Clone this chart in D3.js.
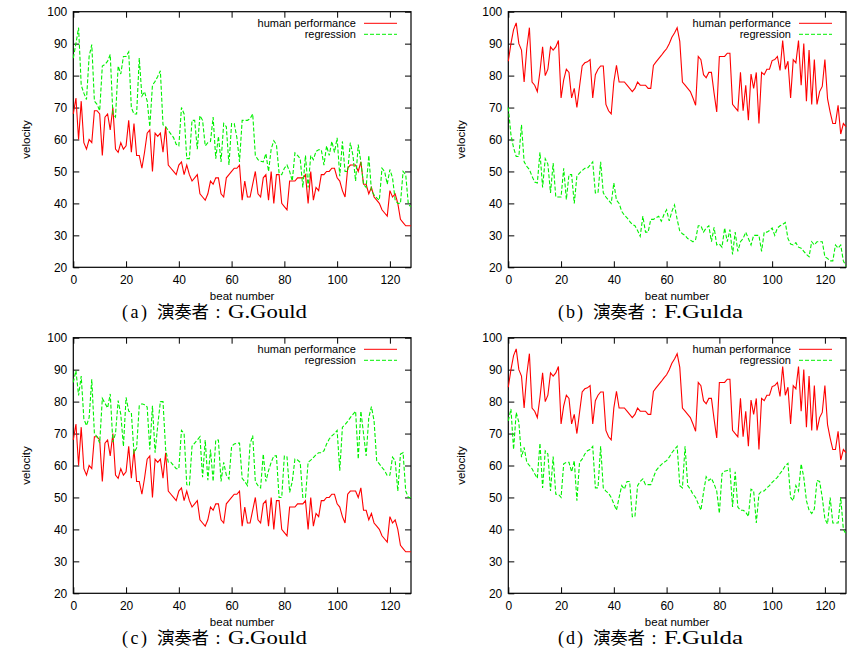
<!DOCTYPE html>
<html>
<head>
<meta charset="utf-8">
<script src="https://cdnjs.cloudflare.com/ajax/libs/d3/7.8.5/d3.min.js"></script>
<style>
  body { margin: 0; background: #fff; }
  .tick text { font-family: "Liberation Sans", Arial, sans-serif; font-size: 12px; fill: #000; }
  .axis-label, .legend-text { font-family: "Liberation Sans", Arial, sans-serif; fill: #000; }
  .caption { font-family: "Liberation Serif", "Noto Sans CJK JP", serif; font-size: 18px; fill: #000; }
</style>
</head>
<body>
<div id="chart"></div>
<script>
// velocity per beat (beat number = index 0..128)
var humanGould = [
  68,73,60,72,59,57,60,59,69,69,
  68,55,67,68,63,70,57,56,59,57,
  58,66,56,65,55,55,51,56,62,63,
  50,62,61,62,56,64,52,51,50,49,
  52,53,49,52,49,47,48,49,43,42,
  41,43,47,46,48,48,43,42,48,49,
  50,51,51,52,41,47,42,42,46,50,
  43,42,48,49,41,50,40,49,49,40,
  39,38,47,47,47,48,48,48,49,40,
  50,41,45,44,49,49,50,50,51,51,
  48,47,44,42,51,52,52,52,50,53,
  46,46,43,45,42,41,40,38,37,36,
  44,42,43,40,35,34,33,33,33
];

var regGouldA = [
  85.5,90,95,77,74.5,72.5,86,89.7,72,71,
  69,83,83.5,84.5,86.6,68,67,83,80.5,86,
  86,87.4,70,68,68,85.5,73.6,75,72,64,
  77,78.2,79.7,81.5,64.6,64,62.8,61.7,60.6,58.5,
  58,70,68,54,54,66,66,57,67.5,66,
  58,59,59.4,67,54,61,53,65,64,52,
  65,65,60.6,53,66,66,66,66.5,68,55,
  53.7,53.2,53,55.6,50,57,59.6,58.4,49.5,49,
  51,52,50,47,55.8,55,54,45,55,45,
  55,53.7,56.3,56.8,56.8,52,58,55,59.4,56,
  60.5,48.5,59.4,50,50,59,55,47,58.4,53,
  46,45,55,44,42.7,41.7,41,51,50,46,
  50.6,48,41,40,40,50,49,39.6,39
];

var regGouldC = [
  86,89.7,81.9,88,74.6,72.5,75,87,70,69,
  67,81,79.5,78,82.4,67.3,70,80.3,76,66,
  81.3,77,76.6,64,65.5,78.7,79.3,79,78.3,65,
  78.7,64,72.5,80,80,65,61,61,60,59,
  59,71,70,54,53.7,66,67,68,69,56.3,
  68,55.4,65,55,68,68,55,61,57,55.8,
  66,66.7,67,67,56,55,53.7,66.7,69.4,55,
  53.7,53,63.6,55,58.4,61,63,63,50,50,
  63,62.7,51.6,55,62,61.7,61,50,50,61,
  61.7,62.5,63.4,64,64,64.6,66.7,68.3,69.3,70,
  71,58.4,72,72.8,73.8,75,76,77,62,77,
  70,63,75,78.4,74,61.5,60.5,59.4,58.4,56.8,
  57,62.6,61.5,52,63.6,64,52,50,50
];

var humanGulda = [
  84.5,90,94.4,96.5,90,88,78,88.5,95,78,
  77,75,81.3,89,80,82,89,88,89,91,
  73,78.7,82,81,73,76,70,76.6,83,84,
  84.3,85,73,80.3,82,83,83,71,69,68,
  78,83.2,78,78,78,77,76,75,76,78,
  77,77,77,76,76,83.2,84.3,85.3,86.3,87.4,
  88.4,90,92,93.3,95,90.7,78,77,76,75,
  73,70.7,86,85,80.3,79.3,81,81,74.5,68.6,
  86,86,86,87,87,71,70,69,81,69,
  77,66,80.5,76,81,65,81,80.3,82,82,
  84.7,85,86,81.6,91,82,84.5,73,85,84,
  91,77,90,72,88,71,85,71,75,76.6,
  85,72.8,68.6,65,65,70.7,61.7,65,64
];

var regGuldaB = [
  70,61.5,57.4,54.7,54.7,64.6,53,51.6,50.6,48.5,
  46.7,46.4,56,45,54,52.3,43.3,52.6,42,42,
  42,51,41.2,49,49,40,48.5,49.5,50.3,51,
  51,52,53,43.3,43.3,53,43.3,42,41,40,
  46.4,41,40,37.5,36.3,35.5,34.4,33.4,33,31.5,
  29.7,36,31,31,35,35,35.5,36,34.4,36.5,
  38,34.5,37.5,39.5,35,31.3,30.5,30,29,28.5,
  28,28.7,33,33,31,32.3,33,28,32.5,27,
  27.3,26.3,32.3,28,31.8,24,31,25,28,29,
  31,29,27,30,30,30,25,31,31,31.5,
  32.3,30,32.3,33,33.4,34,29,27.3,27,27.7,
  26.3,26,25,24,23.3,28,27,28,28,28,
  23.3,22.8,22,22,27,26,27,22,20.3
];

var regGuldaD = [
  74,77.7,65,76.6,73.5,62.6,65.7,61,60,59,
  57.4,56,67,53,64.6,63.6,52,62.8,51,51,
  50,60.5,61,61,58,61.5,49,61,62,63.6,
  64.6,65,66,53,53,66,53,52,51.3,50,
  48,46,50,53.7,52.6,55,55,44,44,53.7,
  55,55.8,54,54,54,56.3,58.4,59.4,60.3,61,
  61.5,62.6,64,65,66,53.7,53,66,53.7,52.6,
  51,50,48,46,51.6,56.5,55.3,56,54.2,52,
  45,57.4,58.2,58.4,59,47,58,47,46,46,
  45.4,44,52.6,52,42,51,52,52,53,53.7,
  54.7,55.5,56.3,57.5,58.6,60,60.7,50,49,53.7,
  52,60.5,56.3,49,46,45,46.4,55.3,55,50,
  43.3,41.7,50,42,42,42,50,40,38.6
];

var xTicks = [0, 20, 40, 60, 80, 100, 120];
var yTicks = [20, 30, 40, 50, 60, 70, 80, 90, 100];
var legendLabels = ["human performance", "regression"];
var captionTags = ["(a)", "(b)", "(c)", "(d)"];
var captionPerformers = ["G.Gould", "F.Gulda", "G.Gould", "F.Gulda"];

var svgWidth = 847;
var svgHeight = 652;

var plotWidth = 337.7;
var plotHeight = 255.6;

var panels = [
  { left: 73.3, top: 11.7, human: humanGould, reg: regGouldA, capX: 122 },
  { left: 508.3, top: 11.7, human: humanGulda, reg: regGuldaB, capX: 558 },
  { left: 73.3, top: 337.7, human: humanGould, reg: regGouldC, capX: 122 },
  { left: 508.3, top: 337.7, human: humanGulda, reg: regGuldaD, capX: 558 }
];

var svg = d3.select("#chart")
  .append("svg")
  .attr("width", svgWidth)
  .attr("height", svgHeight);

var xScale = d3.scaleLinear().domain([0, 128]).range([0, plotWidth]);
var yScale = d3.scaleLinear().domain([20, 100]).range([plotHeight, 0]);

var line = d3.line()
  .x((d, i) => xScale(i))
  .y(d => yScale(d));

panels.forEach(function(p, k) {
  var g = svg.append("g")
    .attr("transform", `translate(${p.left}, ${p.top})`);

  // axes with inward ticks (gnuplot style, mirrored)
  g.append("g")
    .attr("transform", `translate(0, ${plotHeight})`)
    .call(d3.axisBottom(xScale).tickValues(xTicks).tickSizeInner(-6).tickSizeOuter(0).tickPadding(8));

  g.append("g")
    .call(d3.axisLeft(yScale).tickValues(yTicks).tickSizeInner(-6).tickSizeOuter(0).tickPadding(6));

  g.append("g")
    .call(d3.axisTop(xScale).tickValues(xTicks).tickSizeInner(-6).tickSizeOuter(0).tickFormat(""));

  g.append("g")
    .attr("transform", `translate(${plotWidth}, 0)`)
    .call(d3.axisRight(yScale).tickValues(yTicks).tickSizeInner(-6).tickSizeOuter(0).tickFormat(""));

  g.selectAll(".domain").remove();
  g.selectAll(".tick line").attr("stroke", "#000");

  g.append("rect")
    .attr("width", plotWidth)
    .attr("height", plotHeight)
    .attr("fill", "none")
    .attr("stroke", "#000")
    .attr("stroke-width", 1.2);

  g.append("path")
    .datum(p.human)
    .attr("fill", "none")
    .attr("stroke", "#ff0000")
    .attr("stroke-width", 1.1)
    .attr("d", line);

  g.append("path")
    .datum(p.reg)
    .attr("fill", "none")
    .attr("stroke", "#00f000")
    .attr("stroke-width", 1.1)
    .attr("stroke-dasharray", "4,2")
    .attr("d", line);

  // legend
  var legend = g.append("g");
  legend.selectAll("text")
    .data(legendLabels)
    .enter()
    .append("text")
    .attr("class", "legend-text")
    .attr("x", 282.7)
    .attr("y", (d, i) => 15.5 + i * 11)
    .attr("text-anchor", "end")
    .style("font-size", "11px")
    .text(d => d);

  legend.append("line")
    .attr("x1", 290.7).attr("x2", 323.7)
    .attr("y1", 11.6).attr("y2", 11.6)
    .attr("stroke", "#ff0000");

  legend.append("line")
    .attr("x1", 290.7).attr("x2", 323.7)
    .attr("y1", 22.6).attr("y2", 22.6)
    .attr("stroke", "#00f000")
    .attr("stroke-dasharray", "4,2");

  // axis labels
  g.append("text")
    .attr("class", "axis-label")
    .attr("transform", "rotate(-90)")
    .attr("x", -plotHeight / 2)
    .attr("y", -43)
    .attr("text-anchor", "middle")
    .style("font-size", "11.5px")
    .text("velocity");

  g.append("text")
    .attr("class", "axis-label")
    .attr("x", plotWidth / 2)
    .attr("y", plotHeight + 33)
    .attr("text-anchor", "middle")
    .style("font-size", "11.5px")
    .text("beat number");

  // caption: tag, 演奏者, colon, performer
  var capY = p.top + plotHeight + 51;
  var cap = svg.append("g").attr("class", "caption");
  cap.append("text")
    .attr("x", p.capX).attr("y", capY)
    .attr("textLength", 25)
    .text(captionTags[k]);
  cap.append("text")
    .attr("x", p.capX + 35).attr("y", capY)
    .attr("textLength", 52)
    .style("font-size", "17.5px")
    .text("演奏者");
  cap.append("text")
    .attr("x", p.capX + 96).attr("y", capY)
    .attr("text-anchor", "middle")
    .text(":");
  cap.append("text")
    .attr("x", p.capX + 106).attr("y", capY)
    .attr("textLength", 79)
    .attr("lengthAdjust", "spacingAndGlyphs")
    .text(captionPerformers[k]);
});
</script>
</body>
</html>
